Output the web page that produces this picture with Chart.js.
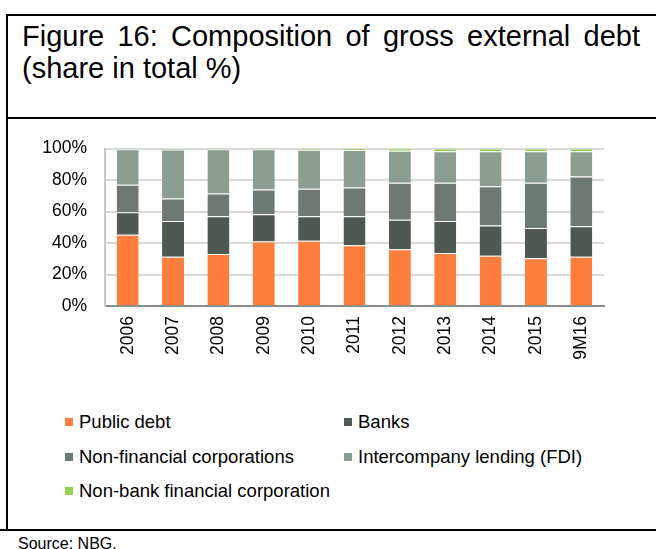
<!DOCTYPE html>
<html>
<head>
<meta charset="utf-8">
<script src="https://cdn.jsdelivr.net/npm/chart.js@4/dist/chart.umd.min.js"></script>
<style>
  body { margin: 0; width: 656px; height: 549px; background: #fff; position: relative; overflow: hidden;
         font-family: "Liberation Sans", Arial, sans-serif; color: #000; }
  .hline { position: absolute; height: 2px; background: #000; }
  .vline { position: absolute; width: 2px; background: #000; }
  #title { position: absolute; left: 22px; top: 20px; width: 618px; font-size: 29px; line-height: 32px; text-align: justify; }
  #chartBox { position: absolute; left: 0; top: 120px; width: 656px; height: 260px; }
  #legend { position: absolute; left: 65px; top: 412px; }
  .item { position: absolute; white-space: nowrap; font-size: 18.5px; line-height: 20px; }
  .item span.box { position: absolute; left: 0; top: 6px; width: 8px; height: 8px; }
  .item span.txt { position: absolute; left: 14px; top: 0; }
  #source { position: absolute; left: 18px; top: 535px; font-size: 16px; line-height: 18px; }
</style>
</head>
<body>
<div class="hline" style="left:7px; top:14px; width:649px;"></div>
<div class="hline" style="left:7px; top:117px; width:649px;"></div>
<div class="hline" style="left:0; top:529px; width:656px;"></div>
<div class="vline" style="left:6px; top:14px; height:517px;"></div>

<div id="title">Figure 16: Composition of gross external debt (share in total %)</div>

<div id="chartBox"><canvas id="myChart"></canvas></div>
<div id="legend"></div>
<div id="source">Source: NBG.</div>

<script>
// years on the x axis
var years = ["2006", "2007", "2008", "2009", "2010", "2011", "2012", "2013", "2014", "2015", "9M16"];
// share of each sector in total gross external debt, %
var publicDebt   = [45.3, 31.3, 33.0, 40.9, 41.5, 38.6, 36.1, 33.6, 31.9, 30.3, 31.3];
var banks        = [14.2, 22.6, 24.0, 17.3, 15.5, 18.4, 18.6, 20.3, 19.2, 19.2, 19.4];
var nonFinCorp   = [17.5, 14.4, 14.4, 15.7, 17.5, 18.2, 23.6, 24.4, 24.9, 28.8, 31.6];
var intercompany = [22.6, 31.0, 28.2, 25.7, 24.7, 23.8, 20.2, 20.0, 22.3, 20.0, 16.0];
var nonBankFin   = [0.4, 0.7, 0.4, 0.4, 0.8, 1.0, 1.5, 1.7, 1.7, 1.7, 1.7];
var yTicks = [0, 20, 40, 60, 80, 100];

var font = { family: '"Liberation Sans", Arial, sans-serif', size: 17.5 };

function series(label, data, color) {
  return {
    label: label,
    data: data,
    backgroundColor: color,
    borderColor: "rgba(255,255,255,0.45)",
    borderWidth: { top: 1, bottom: 0, left: 0, right: 0 },
    borderSkipped: false,
    barPercentage: 0.485,
    categoryPercentage: 1
  };
}

var ctx = document.getElementById("myChart");
var myChart = new Chart(ctx, {
  type: 'bar',
  data: {
    labels: years,
    datasets: [
      series("Public debt", publicDebt, "#fd7e3c"),
      series("Banks", banks, "#4f5851"),
      series("Non-financial corporations", nonFinCorp, "#6c7a72"),
      series("Intercompany lending (FDI)", intercompany, "#8c9e92"),
      series("Non-bank financial corporation", nonBankFin, "#92d050")
    ]
  },
  options: {
    maintainAspectRatio: false,
    responsive: true,
    animation: false,
    layout: { padding: { left: 0, right: 52, top: 26, bottom: 0 } },
    plugins: {
      legend: { display: false },
      tooltip: { enabled: false }
    },
    scales: {
      x: {
        stacked: true,
        grid: { display: false, drawTicks: false },
        border: { color: "#8c8c8c", width: 2 },
        ticks: { color: "#000", font: font, minRotation: 90, maxRotation: 90, padding: 10, autoSkip: false },
        afterFit: function (scale) { scale.height = 74; }
      },
      y: {
        stacked: true,
        min: 0,
        max: 100,
        afterBuildTicks: function (scale) {
          scale.ticks = yTicks.map(function (v) { return { value: v }; });
        },
        grid: { color: "#d9d9d9", lineWidth: 2, drawTicks: false },
        border: { color: "#c8c8c8", width: 2 },
        ticks: {
          color: "#000", font: font, padding: 18,
          callback: function (v) { return v + "%"; }
        },
        afterFit: function (scale) { scale.width = 105; }
      }
    }
  }
});

// legend in two columns, built from the datasets
var legend = document.getElementById("legend");
var cols = [0, 279];
var rows = [0, 35, 69];
myChart.data.datasets.forEach(function (ds, i) {
  var item = document.createElement("div");
  item.className = "item";
  item.style.left = cols[i % 2] + "px";
  item.style.top = rows[Math.floor(i / 2)] + "px";
  item.innerHTML = '<span class="box" style="background:' + ds.backgroundColor + '"></span><span class="txt">' + ds.label + '</span>';
  legend.appendChild(item);
});
</script>
</body>
</html>
